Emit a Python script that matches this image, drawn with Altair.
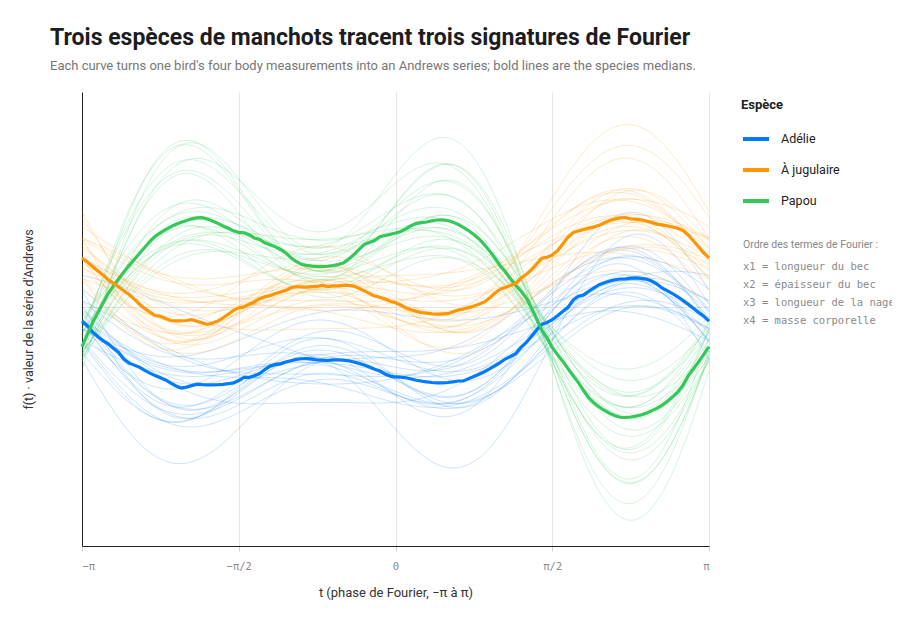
import math

import altair as alt
import pandas as pd

ESPECES = ["Adélie", "À jugulaire", "Papou"]
COULEURS = ["#007AFF", "#FF9500", "#34C759"]

# standardised body measurements, one entry per bird
# x1 = bill length, x2 = bill depth, x3 = flipper length, x4 = body mass
ADELIE_X1 = [-1.21, -0.96, -1.51, -0.76, -1.71, -1.06, -1.56, -1.16, -1.07, -0.86, -1.61, -0.42, -1.81,
             -1.26, -1.21, -0.96, -1.56, -1.06, -1.46, -0.76, -1.77, -1.16, -1.31, -1.85, -0.56]
ADELIE_X2 = [0.58, 0.33, 0.98, 0.83, 0.53, 1.13, 0.18, 0.53, 1.00, 0.93, 0.33, 0.40, 0.93,
             1.03, 0.18, 0.73, 0.58, 0.33, 0.98, 1.03, 0.55, 0.83, 0.38, 1.23, 0.13]
ADELIE_X3 = [-0.56, -0.41, -0.76, -0.91, -0.26, -0.51, -0.66, -0.11, -1.10, -0.31, -0.86, 0.15, -0.56,
             -0.21, -0.96, -0.81, -0.36, -0.21, -0.96, -0.51, -1.30, -0.71, -0.46, -0.21, -1.06]
ADELIE_X4 = [-0.61, -0.56, -0.91, -0.36, -0.96, -0.76, -0.51, -0.26, -1.25, -0.96, -0.41, -0.35, -0.81,
             -0.66, -0.61, -0.16, -1.11, -0.86, -0.41, -0.46, -1.45, -1.01, -0.36, -1.15, -0.16]

PAPOU_X1 = [0.53, 0.05, 0.77, 0.29, 0.50, 0.17, 0.73, 0.45, 0.11, 0.63, 0.99, 0.36, 0.52,
            0.35, 0.83, 0.23, 0.77, 0.73, 0.59, 1.15, 0.61, 1.09, 1.06, 1.02, 0.88]
PAPOU_X2 = [-0.81, -1.05, -0.97, -0.79, -1.21, -0.93, -1.20, -0.82, -1.14, -0.96, -1.23, -1.10, -1.17,
            -1.31, -1.10, -1.31, -1.17, -1.65, -1.43, -1.61, -1.54, -1.89, -1.69, -1.97, -1.90]
PAPOU_X3 = [0.56, 1.09, 1.00, 0.72, 1.28, 0.95, 0.81, 1.23, 0.64, 1.41, 1.07, 0.79, 1.05,
            1.38, 0.91, 1.26, 1.55, 0.96, 1.52, 1.28, 1.44, 1.82, 1.39, 2.05, 1.54]
PAPOU_X4 = [0.70, 0.86, 0.69, 0.92, 0.70, 1.08, 0.96, 0.74, 1.12, 1.00, 0.93, 1.01, 1.09,
            1.05, 1.26, 1.40, 1.19, 1.61, 1.53, 1.75, 2.02, 1.82, 2.17, 2.34, 2.30]

JUGULAIRE_X1 = [0.79, 1.09, 0.54, 1.29, 0.34, 0.99, 0.54, 0.89, 0.64, 1.19, 0.39, 1.39, 0.24, 0.79,
                0.84, 1.09, 0.49, 0.99, 0.59, 1.29, 0.34, 0.89, 0.69, 1.40, 1.37, 0.07, 1.17]
JUGULAIRE_X2 = [0.53, 0.23, 0.88, 0.73, 0.33, 1.03, 0.08, 0.43, 0.58, 0.83, 0.23, 0.33, 0.83, 0.93,
                0.08, 0.63, 0.48, 0.23, 0.88, 0.93, 0.13, 0.73, 0.33, 1.30, 1.10, 0.40, 1.00]
JUGULAIRE_X3 = [-0.47, -0.27, -0.62, -0.77, -0.17, -0.37, -0.52, 0.03, -0.92, -0.17, -0.72, -0.47, -0.42, -0.07,
                -0.82, -0.67, -0.22, -0.07, -0.82, -0.37, -0.62, -0.57, -0.32, -1.00, -0.90, -0.10, -0.60]
JUGULAIRE_X4 = [-0.58, -0.48, -0.83, -0.28, -0.88, -0.68, -0.43, -0.18, -0.93, -0.88, -0.33, -0.38, -0.73, -0.58,
                -0.53, -0.08, -1.03, -0.78, -0.33, -0.38, -0.83, -0.93, -0.28, -1.20, -1.00, -0.35, -1.15]

TICK_VALUES = [-math.pi, -math.pi / 2, 0, math.pi / 2, math.pi]
TICK_LABELS = ["−π", "−π/2", "0", "π/2", "π"]

TITRE_TERMES = "Ordre des termes de Fourier :"
TERMES = ["x1 = longueur du bec", "x2 = épaisseur du bec",
          "x3 = longueur de la nageoire", "x4 = masse corporelle"]

N_PAS = 120


def oiseaux(espece, x1, x2, x3, x4):
    return pd.DataFrame({"espece": espece,
                         "oiseau": [f"{espece} {i}" for i in range(len(x1))],
                         "x1": x1, "x2": x2, "x3": x3, "x4": x4})


# draw order: Adélie under Papou under À jugulaire
birds = pd.concat([
    oiseaux("Adélie", ADELIE_X1, ADELIE_X2, ADELIE_X3, ADELIE_X4),
    oiseaux("Papou", PAPOU_X1, PAPOU_X2, PAPOU_X3, PAPOU_X4),
    oiseaux("À jugulaire", JUGULAIRE_X1, JUGULAIRE_X2, JUGULAIRE_X3, JUGULAIRE_X4),
], ignore_index=True)

# tick label lookup built from the two lists above
label_expr = f"'{TICK_LABELS[-1]}'"
for v, lab in reversed(list(zip(TICK_VALUES[:-1], TICK_LABELS[:-1]))):
    label_expr = f"datum.value < {v + 0.1} ? '{lab}' : {label_expr}"

# Andrews series: f(t) = x1/sqrt2 + x2 sin t + x3 cos t + x4 sin 2t
base = alt.Chart(birds).transform_calculate(
    t=f"sequence(-PI, PI + PI / {N_PAS}, 2 * PI / {N_PAS})"
).transform_flatten(["t"]).transform_calculate(
    f="datum.x1 / SQRT2 + datum.x2 * sin(datum.t) + datum.x3 * cos(datum.t)"
      " + datum.x4 * sin(2 * datum.t)"
)

x = alt.X("t:Q", title="t (phase de Fourier, −π à π)",
          scale=alt.Scale(domain=[-math.pi, math.pi], nice=False, zero=False),
          axis=alt.Axis(values=TICK_VALUES, labelExpr=label_expr, grid=True,
                        gridColor="#e4e4e4", domainColor="#222", tickColor="#d0d0d0",
                        tickSize=5, labelFont="DejaVu Sans Mono", labelFontSize=10.5,
                        labelColor="#8a8a8a", labelPadding=10, titleFontSize=13,
                        titleFontWeight="normal", titleColor="#333", titlePadding=15))
y = alt.Y("f:Q", title="f(t) · valeur de la série d'Andrews",
          scale=alt.Scale(domain=[-5, 4.5], nice=False, zero=False),
          axis=alt.Axis(values=[0], labels=False, ticks=False, grid=True,
                        gridColor="#e4e4e4", domainColor="#222", titleFontSize=12.5,
                        titleFontWeight="normal", titleColor="#333", titlePadding=47))
color_scale = alt.Scale(domain=ESPECES, range=COULEURS)

thin = base.mark_line(strokeWidth=1, opacity=0.2, interpolate="monotone").encode(
    x=x, y=y, detail="oiseau:N",
    color=alt.Color("espece:N", scale=color_scale, legend=None))

median = base.transform_aggregate(
    f="median(f)", groupby=["espece", "t"]
).mark_line(strokeWidth=3.2).encode(
    x=x, y=y,
    color=alt.Color("espece:N", scale=color_scale, title="Espèce",
                    legend=alt.Legend(orient="none", legendX=659, legendY=7,
                                      symbolType="stroke", symbolStrokeWidth=4,
                                      symbolSize=676, labelFontSize=12.5,
                                      labelColor="#222", labelOffset=10,
                                      titleFontSize=13, titleColor="#222",
                                      titlePadding=12, rowPadding=8, padding=0)))

header = alt.Chart(pd.DataFrame({"ligne": [TITRE_TERMES]})).mark_text(
    align="left", baseline="middle", fontSize=10.5, color="#888"
).encode(text="ligne:N", x=alt.value(661), y=alt.value(153))

terms = alt.Chart(pd.DataFrame({"ligne": [0]})).mark_text(
    align="left", baseline="top", fontSize=10.5, font="DejaVu Sans Mono",
    color="#8a8a8a", lineHeight=18.2
).encode(text=alt.value(TERMES), x=alt.value(661), y=alt.value(169.5))

chart = alt.layer(thin, median, header, terms).resolve_legend(
    color="independent"
).properties(
    width=627, height=454,
    padding={"left": 74, "top": 84, "right": 183, "bottom": 60},
    autosize=alt.AutoSizeParams(type="none"),
    title=alt.TitleParams(
        "Trois espèces de manchots tracent trois signatures de Fourier",
        subtitle="Each curve turns one bird's four body measurements into an Andrews series; "
                 "bold lines are the species medians.",
        anchor="start", frame="group", dx=-32, offset=19, fontSize=23,
        fontWeight="bold", color="#1d1d1f", subtitleFontSize=13,
        subtitleColor="#777", subtitlePadding=10)
).configure(font="Roboto").configure_view(stroke=None)

chart.save("out.html", embed_options={"renderer": "svg", "actions": False})
